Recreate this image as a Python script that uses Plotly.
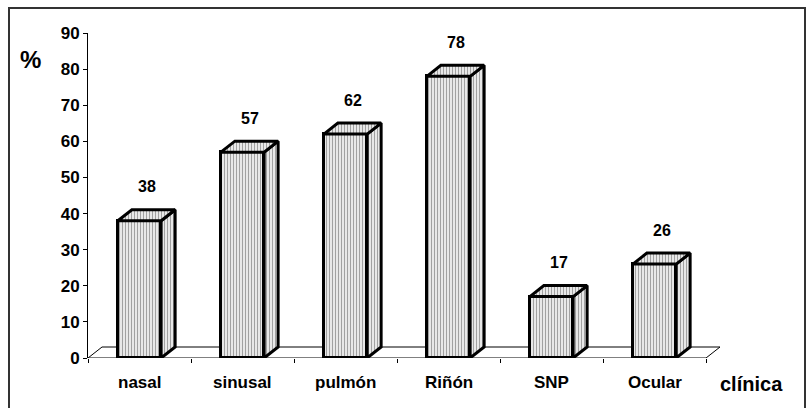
import plotly.graph_objects as go

categories = ["nasal", "sinusal", "pulmón", "Riñón", "SNP", "Ocular"]
values = [38, 57, 62, 78, 17, 26]
y_ticks = [0, 10, 20, 30, 40, 50, 60, 70, 80, 90]

W, H = 808, 408
L, R, T, B = 88, 88, 33, 50
pw, ph = W - L - R, H - T - B
n = len(categories)
cat_px = 103.0
xmax = pw / cat_px
ymax = 90
ppy = ph / ymax

dx = 14 / cat_px          # depth offset (x units)
dy = 11 / ppy             # depth offset (y units)
bw = 0.42                 # bar width

FONT = "Liberation Sans, Arial, sans-serif"
pat = dict(shape="|", fgcolor="#444444", bgcolor="white", size=3, solidity=0.5)

fig = go.Figure()

centers = [i + 0.5 for i in range(n)]
fig.add_trace(go.Bar(
    x=centers, y=values, width=bw,
    marker=dict(color="white", pattern=pat, line=dict(color="black", width=3)),
    showlegend=False, hoverinfo="skip",
))

for c, v in zip(centers, values):
    xl, xr = c - bw / 2, c + bw / 2
    # side face
    fig.add_trace(go.Scatter(
        x=[xr, xr + dx, xr + dx, xr, xr], y=[0, dy, v + dy, v, 0],
        mode="lines", fill="toself", fillcolor="white",
        fillpattern=pat, line=dict(color="black", width=3),
        showlegend=False, hoverinfo="skip", cliponaxis=False,
    ))
    # top face
    fig.add_trace(go.Scatter(
        x=[xl, xl + dx, xr + dx, xr, xl], y=[v, v + dy, v + dy, v, v],
        mode="lines", fill="toself", fillcolor="white",
        fillpattern=pat, line=dict(color="black", width=3),
        showlegend=False, hoverinfo="skip", cliponaxis=False,
    ))
    fig.add_annotation(x=c + dx / 2, y=v + dy, text=str(v), showarrow=False,
                       xanchor="center", yanchor="middle",
                       yshift=23, font=dict(family=FONT, size=16, color="black", weight="bold"))

# floor
fig.add_shape(type="path", xref="x", yref="y", layer="below",
              path=f"M 0,0 L {dx},{dy} L {n + dx},{dy} L {n},0 Z",
              fillcolor="white", line=dict(color="black", width=1))

for c, cat in zip(centers, categories):
    fig.add_annotation(x=c, y=0, yref="y", text=cat, showarrow=False, yshift=-24,
                       xanchor="center", yanchor="middle",
                       font=dict(family=FONT, size=17, color="black", weight="bold"))

fig.add_annotation(xref="paper", yref="paper", x=(30 - L) / pw, y=(H - B - 60) / ph,
                   text="%", showarrow=False, xanchor="center", yanchor="middle",
                   font=dict(family=FONT, size=24, color="black", weight="bold"))
fig.add_annotation(xref="paper", yref="paper", x=(751 - L) / pw, y=(H - B - 384) / ph,
                   text="clínica", showarrow=False, xanchor="center", yanchor="middle",
                   font=dict(family=FONT, size=20, color="black", weight="bold"))

# outer frame
fig.add_shape(type="rect", xref="paper", yref="paper",
              x0=(9 - L) / pw, x1=(805 - L) / pw, y0=(H - B - 412) / ph, y1=(H - B - 8) / ph,
              line=dict(color="#333333", width=2), fillcolor="rgba(0,0,0,0)")

fig.update_layout(
    width=W, height=H, margin=dict(l=L, r=R, t=T, b=B),
    paper_bgcolor="white", plot_bgcolor="white", bargap=0,
    font=dict(family=FONT, color="black"),
    xaxis=dict(range=[0, xmax], showgrid=False, zeroline=False, showline=False,
               tickvals=list(range(n + 1)), ticktext=[""] * (n + 1),
               ticks="outside", ticklen=4, tickcolor="black", tickwidth=1),
    yaxis=dict(range=[0, ymax], showgrid=False, zeroline=False, showline=True,
               linecolor="black", linewidth=1, tickvals=y_ticks,
               ticks="outside", ticklen=4, tickcolor="black", tickwidth=1,
               tickfont=dict(family=FONT, size=17, color="black", weight="bold")),
)

fig.write_html("out.html", config={"displayModeBar": False},
               post_script="document.body.style.margin='0px';document.body.style.overflow='hidden';")
